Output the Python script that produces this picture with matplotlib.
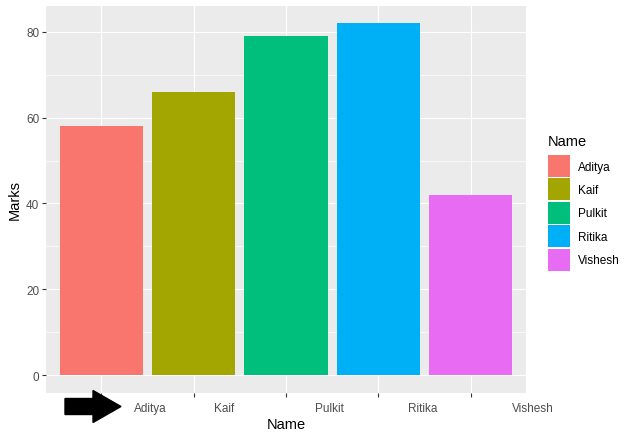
import matplotlib
matplotlib.use("Agg")
import matplotlib.pyplot as plt
import matplotlib.transforms as mtransforms
from matplotlib.patches import FancyArrow

names = ["Aditya", "Kaif", "Pulkit", "Ritika", "Vishesh"]
marks = [58, 66, 79, 82, 42]
colors = ["#F8766D", "#A3A500", "#00BF7D", "#00B0F6", "#E76BF3"]
y_major = [0, 20, 40, 60, 80]
y_minor = [10, 30, 50, 70]

W, H, DPI = 638, 439, 100
plt.rcParams["font.family"] = ["Liberation Sans", "DejaVu Sans"]

fig = plt.figure(figsize=(W / DPI, H / DPI), dpi=DPI)
# panel in pixels: left 46, right 526, top 6.7, bottom 393.7
ax = fig.add_axes([46 / W, 1 - 393.7 / H, 480 / W, 387 / H])
ax.set_facecolor("#EBEBEB")
for s in ax.spines.values():
    s.set_visible(False)

x = list(range(1, len(names) + 1))
bars = ax.bar(x, marks, width=0.9, color=colors, zorder=2)

ymax = max(marks)
ax.set_xlim(0.4, len(names) + 0.6)
ax.set_ylim(-0.05 * ymax, 1.05 * ymax)

ax.set_yticks(y_major)
ax.set_yticks(y_minor, minor=True)
ax.set_xticks(x)
ax.set_xticklabels([""] * len(x))
ax.grid(True, which="major", color="white", lw=0.85, zorder=1)
ax.grid(True, which="minor", axis="y", color="white", lw=0.45, zorder=1)
ax.set_axisbelow(True)
ax.tick_params(axis="both", which="major", direction="out", length=2.65,
               width=0.8, color="#333333", labelsize=8.45,
               labelcolor="#4D4D4D", pad=2.1)
ax.tick_params(axis="y", which="minor", length=0)

# x tick labels pushed right by their own width (hjust = -1)
fig.canvas.draw()
renderer = fig.canvas.get_renderer()
base = mtransforms.blended_transform_factory(ax.transData, fig.transFigure)
for xi, name in zip(x, names):
    t = ax.text(xi, 1 - 411.7 / H, name, transform=base, ha="left",
                va="baseline", fontsize=8.45, color="#4D4D4D", clip_on=False)
    w = t.get_window_extent(renderer).width
    t.set_transform(base + mtransforms.ScaledTranslation(w / DPI, 0, fig.dpi_scale_trans))

fig.text(286 / W, 1 - 429 / H, "Name", ha="center", va="baseline", fontsize=10.56)
fig.text(15 / W, 1 - 200 / H, "Marks", ha="center", va="center",
         rotation=90, fontsize=10.56)

# legend
leg = fig.legend(handles=list(bars.patches), labels=names, title="Name",
                 loc="upper left", bbox_to_anchor=(547.7 / W, 1 - 135 / H),
                 frameon=False, fontsize=8.45, title_fontsize=10.56,
                 handlelength=1.88, handleheight=2.508, labelspacing=0.12,
                 handletextpad=0.68, borderpad=0, borderaxespad=0,
                 alignment="left")
leg._legend_box.sep = 5.0  # gap between title and keys, in points

# black arrow below the axis
arrow = FancyArrow(65 / W, 1 - 407.5 / H, 56 / W, 0, width=16 / H,
                   head_width=32 / H, head_length=28 / W,
                   length_includes_head=True, color="black",
                   transform=fig.transFigure, zorder=5)
fig.patches.append(arrow)

fig.savefig("out.png", dpi=DPI)
